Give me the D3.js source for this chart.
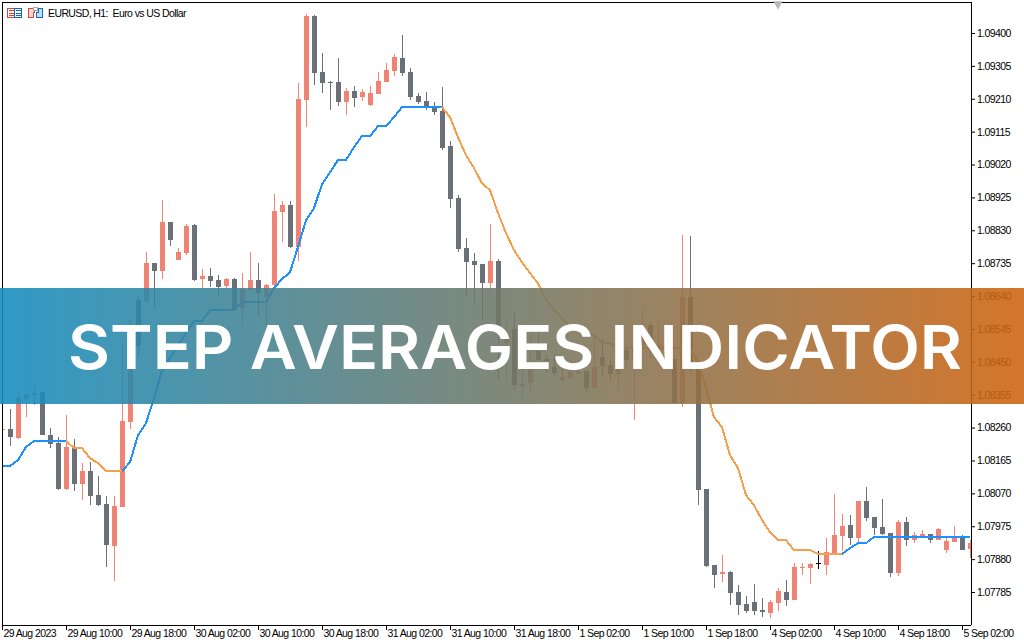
<!DOCTYPE html>
<html>
<head>
<meta charset="utf-8">
<title>EURUSD H1</title>
<script src="https://cdnjs.cloudflare.com/ajax/libs/d3/7.8.5/d3.min.js"></script>
<style>
    html, body { margin: 0; padding: 0; background: #fff; }
    svg { display: block; }
    .axis text, .chart-title { font-family: "Liberation Sans", sans-serif; font-size: 10.5px; letter-spacing: -0.6px; fill: #000; }
</style>
</head>
<body>
<div id="chart"></div>
<script>
const chartTitle = 'EURUSD, H1:  Euro vs US Dollar';
const bannerText = 'STEP AVERAGES INDICATOR';

const priceTicks = [1.094, 1.09305, 1.0921, 1.09115, 1.0902, 1.08925, 1.0883, 1.08735, 1.0864, 1.08545, 1.0845, 1.08355, 1.0826, 1.08165, 1.0807, 1.07975, 1.0788, 1.07785];

// one label every 8 bars
const timeLabels = ['29 Aug 2023', '29 Aug 10:00', '29 Aug 18:00', '30 Aug 02:00', '30 Aug 10:00', '30 Aug 18:00', '31 Aug 02:00', '31 Aug 10:00', '31 Aug 18:00', '1 Sep 02:00', '1 Sep 10:00', '1 Sep 18:00', '4 Sep 02:00', '4 Sep 10:00', '4 Sep 18:00', '5 Sep 02:00'];

const opens = [
    1.08252, 1.08255, 1.08229, 1.08342, 1.08354, 1.08362, 1.08240, 1.08215, 1.08082, 1.08201,
    1.08096, 1.08134, 1.08065, 1.08039, 1.07918, 1.08030, 1.08275, 1.08628, 1.08625, 1.08735,
    1.08712, 1.08853, 1.08744, 1.08764, 1.08845, 1.08689, 1.08698, 1.08686, 1.08669, 1.08689,
    1.08605, 1.08657, 1.08686, 1.08637, 1.08672, 1.08882, 1.08903, 1.08782, 1.09206, 1.09449,
    1.09287, 1.09258, 1.09258, 1.09200, 1.09232, 1.09215, 1.09192, 1.09223, 1.09258, 1.09290,
    1.09327, 1.09287, 1.09218, 1.09203, 1.09186, 1.09174, 1.09073, 1.08923, 1.08779, 1.08741,
    1.08732, 1.08677, 1.08741, 1.08504, 1.08545, 1.08380, 1.08388, 1.08481, 1.08458, 1.08435,
    1.08397, 1.08403, 1.08414, 1.08423, 1.08374, 1.08464, 1.08441, 1.08414, 1.08484, 1.08455,
    1.08498, 1.08556, 1.08455, 1.08498, 1.08458, 1.08330, 1.08637, 1.08441, 1.08082, 1.07863,
    1.07837, 1.07842, 1.07785, 1.07750, 1.07756, 1.07733, 1.07724, 1.07753, 1.07785, 1.07762,
    1.07854, 1.07854, 1.07869, 1.07863, 1.07895, 1.07947, 1.07979, 1.07941, 1.08048, 1.08002,
    1.07973, 1.07956, 1.07840, 1.07987, 1.07935, 1.07944, 1.07953, 1.07935, 1.07906, 1.07929,
    1.07947, 1.07909
];
const highs = [
    1.08255, 1.08313, 1.08368, 1.08356, 1.08383, 1.08362, 1.08258, 1.08232, 1.08296, 1.08226,
    1.08157, 1.08160, 1.08120, 1.08062, 1.08062, 1.08504, 1.08571, 1.08640, 1.08767, 1.08735,
    1.08917, 1.08853, 1.08779, 1.08848, 1.08848, 1.08718, 1.08721, 1.08701, 1.08692, 1.08692,
    1.08706, 1.08767, 1.08735, 1.08675, 1.08934, 1.08914, 1.08914, 1.09255, 1.09455, 1.09452,
    1.09342, 1.09261, 1.09327, 1.09241, 1.09247, 1.09238, 1.09247, 1.09287, 1.09313, 1.09339,
    1.09394, 1.09299, 1.09226, 1.09229, 1.09200, 1.09244, 1.09088, 1.08932, 1.08808, 1.08764,
    1.08732, 1.08848, 1.08747, 1.08565, 1.08591, 1.08432, 1.08530, 1.08533, 1.08469, 1.08469,
    1.08435, 1.08455, 1.08455, 1.08423, 1.08530, 1.08519, 1.08458, 1.08469, 1.08498, 1.08493,
    1.08597, 1.08565, 1.08562, 1.08513, 1.08458, 1.08816, 1.08813, 1.08441, 1.08082, 1.07863,
    1.07892, 1.07845, 1.07805, 1.07773, 1.07808, 1.07767, 1.07762, 1.07796, 1.07819, 1.07869,
    1.07869, 1.07869, 1.07903, 1.07941, 1.08068, 1.08011, 1.08008, 1.08048, 1.08088, 1.08002,
    1.08053, 1.07956, 1.07993, 1.08002, 1.07958, 1.07964, 1.07953, 1.07970, 1.07941, 1.07976,
    1.07950, 1.07935
];
const lows = [
    1.08252, 1.08207, 1.08226, 1.08290, 1.08325, 1.08238, 1.08201, 1.08079, 1.08079, 1.08076,
    1.08051, 1.08036, 1.08033, 1.07857, 1.07816, 1.08030, 1.08255, 1.08464, 1.08619, 1.08605,
    1.08689, 1.08784, 1.08744, 1.08758, 1.08683, 1.08663, 1.08666, 1.08634, 1.08663, 1.08599,
    1.08556, 1.08657, 1.08582, 1.08556, 1.08666, 1.08796, 1.08779, 1.08741, 1.09128, 1.09249,
    1.09226, 1.09177, 1.09189, 1.09163, 1.09186, 1.09203, 1.09189, 1.09223, 1.09258, 1.09276,
    1.09276, 1.09206, 1.09195, 1.09177, 1.09163, 1.09062, 1.08894, 1.08767, 1.08640, 1.08622,
    1.08571, 1.08651, 1.08397, 1.08397, 1.08368, 1.08348, 1.08359, 1.08449, 1.08417, 1.08409,
    1.08391, 1.08403, 1.08412, 1.08359, 1.08374, 1.08412, 1.08394, 1.08374, 1.08438, 1.08281,
    1.08484, 1.08461, 1.08441, 1.08455, 1.08330, 1.08319, 1.08420, 1.08036, 1.07857, 1.07796,
    1.07813, 1.07747, 1.07718, 1.07724, 1.07718, 1.07713, 1.07710, 1.07730, 1.07744, 1.07762,
    1.07834, 1.07808, 1.07851, 1.07834, 1.07895, 1.07903, 1.07921, 1.07929, 1.07990, 1.07950,
    1.07950, 1.07828, 1.07831, 1.07918, 1.07926, 1.07944, 1.07926, 1.07935, 1.07897, 1.07929,
    1.07906, 1.07883
];
const closes = [
    1.08255, 1.08232, 1.08345, 1.08356, 1.08359, 1.08238, 1.08212, 1.08082, 1.08204, 1.08096,
    1.08134, 1.08062, 1.08036, 1.07921, 1.08033, 1.08278, 1.08455, 1.08496, 1.08735, 1.08712,
    1.08853, 1.08802, 1.08767, 1.08842, 1.08686, 1.08698, 1.08683, 1.08666, 1.08689, 1.08599,
    1.08660, 1.08686, 1.08648, 1.08672, 1.08885, 1.08903, 1.08782, 1.09209, 1.09449, 1.09284,
    1.09255, 1.09255, 1.09200, 1.09232, 1.09212, 1.09229, 1.09226, 1.09261, 1.09293, 1.09330,
    1.09284, 1.09215, 1.09200, 1.09186, 1.09171, 1.09067, 1.08920, 1.08776, 1.08738, 1.08729,
    1.08677, 1.08741, 1.08536, 1.08527, 1.08383, 1.08386, 1.08429, 1.08455, 1.08452, 1.08417,
    1.08406, 1.08420, 1.08423, 1.08374, 1.08435, 1.08438, 1.08414, 1.08464, 1.08455, 1.08493,
    1.08542, 1.08484, 1.08498, 1.08469, 1.08330, 1.08637, 1.08441, 1.08079, 1.07860, 1.07834,
    1.07842, 1.07782, 1.07747, 1.07730, 1.07730, 1.07727, 1.07756, 1.07787, 1.07762, 1.07857,
    1.07857, 1.07866, 1.07869, 1.07900, 1.07950, 1.07976, 1.07941, 1.08048, 1.07999, 1.07970,
    1.07953, 1.07840, 1.07987, 1.07935, 1.07950, 1.07953, 1.07935, 1.07967, 1.07932, 1.07944,
    1.07906, 1.07926
];

// Step averages value on each bar
const stepValues = [
    1.08149, 1.08149, 1.08166, 1.08204, 1.08221, 1.08221, 1.08221, 1.08221, 1.08221, 1.08201,
    1.08201, 1.08172, 1.08157, 1.08134, 1.08134, 1.08134, 1.08160, 1.08238, 1.08273, 1.08345,
    1.08426, 1.08461, 1.08498, 1.08533, 1.08568, 1.08568, 1.08599, 1.08599, 1.08599, 1.08599,
    1.08622, 1.08622, 1.08622, 1.08622, 1.08663, 1.08689, 1.08709, 1.08782, 1.08859, 1.08894,
    1.08963, 1.08998, 1.09033, 1.09033, 1.09070, 1.09102, 1.09102, 1.09131, 1.09131, 1.09157,
    1.09186, 1.09186, 1.09186, 1.09186, 1.09186, 1.09186, 1.09157, 1.09099, 1.09047, 1.09010,
    1.08966, 1.08946, 1.08880, 1.08822, 1.08773, 1.08738, 1.08706, 1.08677, 1.08628, 1.08599,
    1.08576, 1.08550, 1.08545, 1.08536, 1.08527, 1.08504, 1.08504, 1.08490, 1.08490, 1.08490,
    1.08490, 1.08490, 1.08490, 1.08490, 1.08490, 1.08490, 1.08490, 1.08449, 1.08374, 1.08290,
    1.08261, 1.08180, 1.08143, 1.08065, 1.08036, 1.07993, 1.07958, 1.07935, 1.07935, 1.07906,
    1.07906, 1.07906, 1.07895, 1.07895, 1.07895, 1.07895, 1.07912, 1.07926, 1.07926, 1.07944,
    1.07944, 1.07944, 1.07944, 1.07944, 1.07944, 1.07944, 1.07944, 1.07944, 1.07944, 1.07944,
    1.07944, 1.07944
];

// first and last bar of the stretches where the line is falling (orange)
const fallingRuns = [[8, 15], [55, 105]];
const risingRuns = [[0, 8], [15, 55], [105, 121]];

const colorUp = '#EF8475';
const colorDown = '#6B7078';
const colorDoji = '#000000';
const colorRising = '#1E90FF';
const colorFalling = '#F6A04D';

const width = 1024;
const height = 640;
const plot = { left: 2, top: 2, right: 971, bottom: 625 };

const svg = d3.select('#chart').append('svg')
    .attr('width', width)
    .attr('height', height);

const x = d3.scaleLinear().domain([0, 1]).range([2, 10]);
const y = d3.scaleLinear().domain([1.094, 1.07785]).range([33, 592]);

const defs = svg.append('defs');
defs.append('clipPath').attr('id', 'plot-clip').append('rect')
    .attr('x', plot.left + 1)
    .attr('y', plot.top + 1)
    .attr('width', plot.right - plot.left - 1)
    .attr('height', plot.bottom - plot.top - 1);

const grad = defs.append('linearGradient').attr('id', 'banner-grad');
grad.append('stop').attr('offset', '0%').attr('stop-color', '#138DBF');
grad.append('stop').attr('offset', '100%').attr('stop-color', '#CF630D');

const plotArea = svg.append('g').attr('clip-path', 'url(#plot-clip)');

// Velas
const candle = plotArea.selectAll('.candle')
    .data(opens.map((o, i) => ({ i, o, h: highs[i], l: lows[i], c: closes[i] })))
    .enter().append('g')
    .attr('class', 'candle')
    .attr('shape-rendering', 'crispEdges')
    .attr('fill', d => d.c > d.o ? colorUp : d.c < d.o ? colorDown : colorDoji);

candle.append('rect')
    .attr('x', d => x(d.i))
    .attr('width', 1)
    .attr('y', d => Math.round(y(d.h)))
    .attr('height', d => Math.max(1, Math.round(y(d.l)) - Math.round(y(d.h))));

candle.append('rect')
    .attr('x', d => x(d.i) - 2)
    .attr('width', 5)
    .attr('y', d => Math.round(y(Math.max(d.o, d.c))))
    .attr('height', d => Math.max(1, Math.round(y(Math.min(d.o, d.c))) - Math.round(y(Math.max(d.o, d.c)))));

// Linea del indicador
const stepLine = d3.line()
    .x(d => x(d))
    .y(d => y(stepValues[d]));

function drawRuns(runs, color) {
    runs.forEach(run => {
        plotArea.append('path')
            .attr('d', stepLine(d3.range(run[0], run[1] + 1)))
            .attr('fill', 'none')
            .attr('stroke', color)
            .attr('stroke-width', 2)
            .attr('shape-rendering', 'crispEdges');
    });
}
drawRuns(risingRuns, colorRising);
drawRuns(fallingRuns, colorFalling);

// Ejes
const priceAxis = svg.append('g')
    .attr('class', 'axis')
    .attr('transform', `translate(${plot.right},0)`)
    .call(d3.axisRight(y).tickValues(priceTicks).tickFormat(d3.format('.5f')).tickSize(4).tickPadding(2));
priceAxis.select('.domain').attr('d', `M0.5,${plot.top}V${plot.bottom}`).attr('stroke', '#000');
priceAxis.selectAll('line').attr('stroke', '#000');

const timeAxis = svg.append('g')
    .attr('class', 'axis')
    .attr('transform', `translate(0,${plot.bottom})`)
    .call(d3.axisBottom(x).tickValues(timeLabels.map((d, i) => i * 8)).tickFormat(d => timeLabels[d / 8]).tickSize(5).tickPadding(0));
timeAxis.select('.domain').attr('d', `M${plot.left},0.5H${plot.right}`).attr('stroke', '#000');
timeAxis.selectAll('line').attr('stroke', '#000');
timeAxis.selectAll('text').attr('text-anchor', 'start').attr('dx', 1);

// Borde superior e izquierdo
svg.append('path')
    .attr('d', `M${plot.left + 0.5},${plot.bottom}V${plot.top + 0.5}H${plot.right}`)
    .attr('fill', 'none')
    .attr('stroke', '#000')
    .attr('shape-rendering', 'crispEdges');

// Iconos de la cabecera
const icons = svg.append('g').attr('shape-rendering', 'crispEdges').attr('fill', 'none');
icons.append('rect').attr('x', 7.5).attr('y', 8.5).attr('width', 7).attr('height', 9).attr('stroke', '#E8413A').attr('fill', '#fff');
icons.append('rect').attr('x', 14.5).attr('y', 8.5).attr('width', 7).attr('height', 9).attr('stroke', '#1565B0').attr('fill', '#fff');
[10.5, 13.5, 15.5].forEach(v => {
    icons.append('path').attr('d', `M9,${v}H14`).attr('stroke', '#E8413A');
    icons.append('path').attr('d', `M16,${v}H21`).attr('stroke', '#1565B0');
});
icons.append('path').attr('d', 'M28.5,8.5H34.5V12.5H33.5V17.5H28.5Z').attr('stroke', '#E8413A').attr('fill', '#FBD8D2');
icons.append('path').attr('d', 'M42.5,8.5H38.5V12.5H36.5V17.5H42.5Z').attr('stroke', '#1565B0').attr('fill', '#BFE0F5');
icons.append('rect').attr('x', 33.5).attr('y', 7.5).attr('width', 4).attr('height', 3).attr('stroke', '#A8A8A8').attr('fill', '#fff');

svg.append('text')
    .attr('class', 'chart-title')
    .attr('x', 48)
    .attr('y', 17)
    .attr('xml:space', 'preserve')
    .style('white-space', 'pre')
    .text(chartTitle);

// Marca de desplazamiento arriba
svg.append('path')
    .attr('d', d3.symbol().type(d3.symbolTriangle).size(38)())
    .attr('transform', 'translate(778,4) rotate(180)')
    .attr('fill', '#B8B8B8');

// Banda con el titulo
svg.append('rect')
    .attr('x', 0)
    .attr('y', 288)
    .attr('width', width)
    .attr('height', 116)
    .attr('fill', 'url(#banner-grad)')
    .attr('opacity', 0.88);

svg.append('text')
    .attr('x', 68)
    .attr('y', 369)
    .attr('textLength', 894)
    .attr('lengthAdjust', 'spacingAndGlyphs')
    .style('font-family', 'Inter, sans-serif')
    .style('font-weight', 600)
    .style('font-size', '60.5px')
    .attr('fill', '#fff')
    .text(bannerText);
</script>
</body>
</html>
